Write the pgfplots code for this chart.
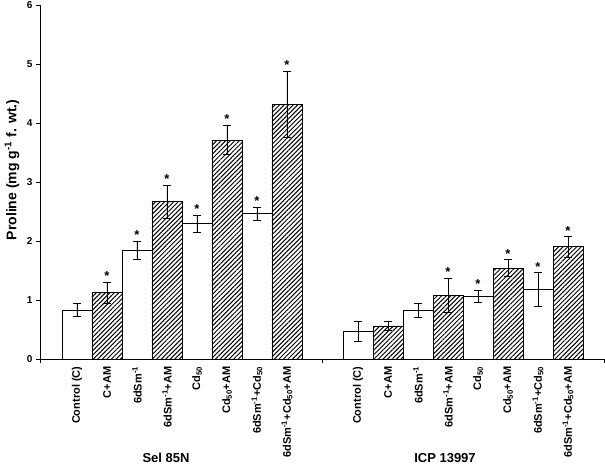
\documentclass[border=0pt]{standalone}
\usepackage{pgfplots}
\pgfplotsset{compat=1.18}
\usepackage{fontspec}
\setmainfont{Liberation Sans}
\usetikzlibrary{patterns.meta}

\pgfplotsset{
  white bar/.style={ybar, bar width=30pt, bar shift=0pt, draw=black, line width=0.9pt, fill=white,
    error bars/.cd, y dir=both, y explicit,
    error bar style={line width=0.8pt, black},
    error mark options={rotate=90, mark size=3.8pt, line width=0.8pt, black}},
  hatch bar/.style={ybar, bar width=30pt, bar shift=0pt, draw=black, line width=0.9pt,
    pattern={Lines[angle=45, distance=3.2pt, line width=1pt]}, pattern color=black,
    error bars/.cd, y dir=both, y explicit,
    error bar style={line width=0.8pt, black},
    error mark options={rotate=90, mark size=3.8pt, line width=0.8pt, black}},
  stars/.style={draw=none, mark=none, nodes near coords={\bfseries *},
    every node near coord/.append style={anchor=south, inner sep=1.5pt, font=\fontsize{13}{14}\selectfont}},
}

\begin{document}
\begin{tikzpicture}
\useasboundingbox (-40pt,-107pt) rectangle (565pt,359pt);
\begin{axis}[
  at={(0,0)}, anchor=south west,
  scale only axis, width=564pt, height=354pt,
  xmin=0, xmax=18.8, ymin=0, ymax=6,
  axis x line=bottom, axis y line=left,
  axis line style={-, line width=0.6pt},
  tick align=outside, major tick length=4pt,
  ytick={0,1,2,3,4,5,6},
  /pgf/number format/assume math mode=true,
  yticklabel style={font=\fontsize{10}{11}\selectfont\bfseries},
  ytick style={line width=0.6pt, black},
  xtick={1.233,2.233,3.233,4.233,5.233,6.233,7.233,8.233,10.6,11.6,12.6,13.6,14.6,15.6,16.6,17.6},
  xticklabels={Control (C), C+AM, 6dSm\textsuperscript{-1}, 6dSm\textsuperscript{-1}+AM, Cd\textsubscript{50}, Cd\textsubscript{50}+AM, 6dSm\textsuperscript{-1}+Cd\textsubscript{50}, 6dSm\textsuperscript{-1}+Cd\textsubscript{50}+AM,
    Control (C), C+AM, 6dSm\textsuperscript{-1}, 6dSm\textsuperscript{-1}+AM, Cd\textsubscript{50}, Cd\textsubscript{50}+AM, 6dSm\textsuperscript{-1}+Cd\textsubscript{50}, 6dSm\textsuperscript{-1}+Cd\textsubscript{50}+AM},
  xticklabel style={rotate=90, anchor=east, font=\fontsize{11}{12}\selectfont\bfseries},
  xtick style={draw=none},
  extra x ticks={0,9.4,18.8}, extra x tick labels={},
  extra x tick style={xtick style={draw=black, line width=0.6pt}},
  ylabel={\bfseries Proline (mg g\textsuperscript{-1} f. wt.)},
  every axis y label/.style={at={(rel axis cs:0,0.534)}, xshift=-28pt, rotate=90, anchor=center, font=\fontsize{14}{16}\selectfont},
  clip=false,
]
% Sel 85N
\addplot[white bar] coordinates {(1.233,0.83) +- (0,0.11) (3.233,1.84) +- (0,0.15) (5.233,2.29) +- (0,0.15) (7.233,2.46) +- (0,0.11)};
\addplot[hatch bar] coordinates {(2.233,1.12) +- (0,0.18) (4.233,2.67) +- (0,0.28) (6.233,3.71) +- (0,0.25) (8.233,4.31) +- (0,0.56)};
% ICP 13997
\addplot[white bar] coordinates {(10.6,0.46) +- (0,0.17) (12.6,0.83) +- (0,0.12) (14.6,1.06) +- (0,0.10) (16.6,1.18) +- (0,0.28)};
\addplot[hatch bar] coordinates {(11.6,0.56) +- (0,0.08) (13.6,1.08) +- (0,0.29) (15.6,1.54) +- (0,0.14) (17.6,1.90) +- (0,0.17)};
% significance marks
\addplot[stars] coordinates {(2.233,1.30) (3.233,1.99) (4.233,2.95) (5.233,2.44) (6.233,3.96) (7.233,2.57) (8.233,4.87)
  (13.6,1.37) (14.6,1.16) (15.6,1.68) (16.6,1.46) (17.6,2.07)};
\node[font=\fontsize{13}{15}\selectfont\bfseries] at (axis cs:4.2,0) [yshift=-99pt] {Sel 85N};
\node[font=\fontsize{13}{15}\selectfont\bfseries] at (axis cs:13.5,0) [yshift=-99pt] {ICP 13997};
\end{axis}
\end{tikzpicture}
\end{document}
